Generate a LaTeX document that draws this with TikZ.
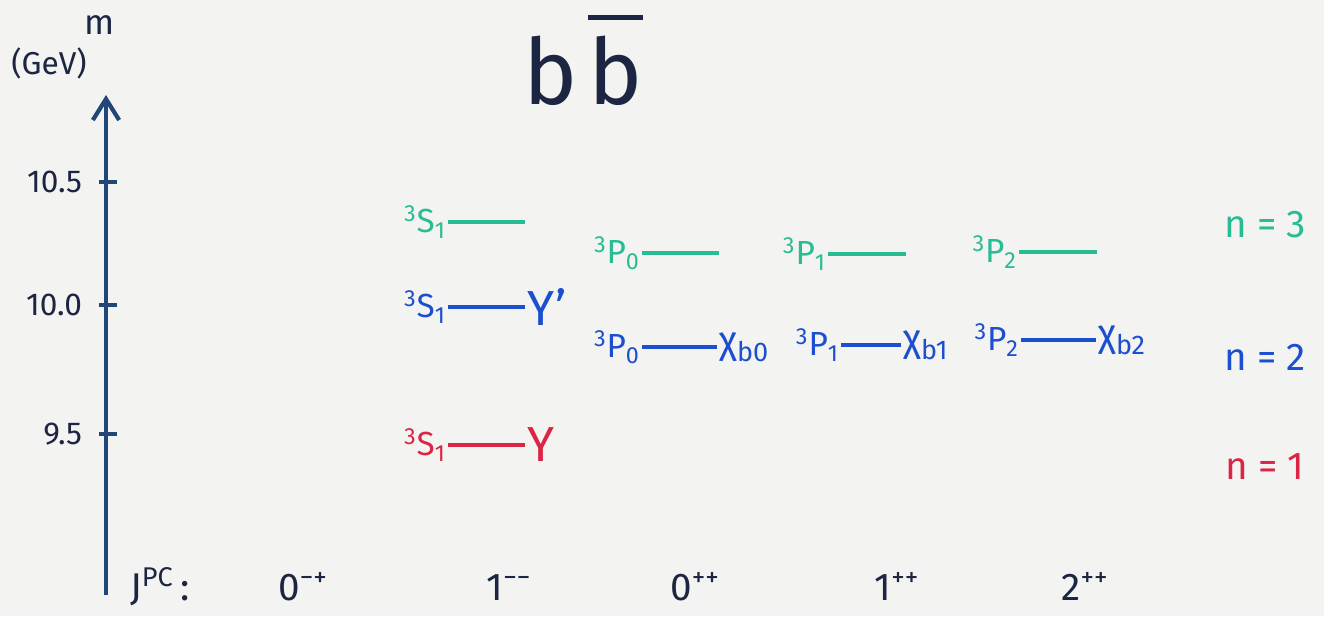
\documentclass[tikz,border=0pt]{standalone}
\usepackage{fontspec}
\setmainfont{Fira Sans}
\usetikzlibrary{positioning,arrows.meta}

\definecolor{paper}{RGB}{243,243,241}
\definecolor{ink}{RGB}{28,38,66}
\definecolor{axisblue}{RGB}{35,70,120}
\definecolor{levgreen}{RGB}{40,188,148}
\definecolor{levblue}{RGB}{28,78,208}
\definecolor{levred}{RGB}{218,38,68}

\newcommand{\spec}[2]{\textsuperscript{3}#1\textsubscript{#2}}
\newcommand{\barb}{\vbox{\hrule height 2.6pt width 0.6em\kern 0.17em\hbox to 0.6em{\hss b\hss}}}

\tikzset{
    axis/.style={draw=axisblue, line width=2.4pt},
    numlab/.style={anchor=east, inner sep=1pt, font=\fontsize{18}{20}\selectfont},
    jpc/.style={anchor=base, inner sep=1pt, font=\fontsize{22}{26}\selectfont},
    term/.style={anchor=east, inner sep=1pt, font=\fontsize{19}{22}\selectfont},
    meson/.style={inner sep=1pt, font=\fontsize{28}{30}\selectfont},
    chi/.style={meson, font=\fontsize{22}{26}\selectfont},
    nlab/.style={inner sep=1pt, font=\fontsize{22}{26}\selectfont},
    lev/.style={line width=2.2pt},
    gr/.style={color=levgreen},
    bl/.style={color=levblue},
    rd/.style={color=levred}
}

\begin{document}
\begin{tikzpicture}[x=0.02cm, y=-0.02cm, color=ink]
    \fill[paper] (0,0) rectangle (1324,616);

    % mass axis
    \coordinate (ax0) at (106,595);
    \coordinate (ax1) at (106,95);
    \draw[axis, -{Straight Barb[length=12pt, width=15pt]}] (ax0) -- (ax1);
    \foreach \v/\y in {10.5/182, 10.0/305, 9.5/434} {
        \draw[axis] (99,\y) -- (117,\y);
        \node[numlab] at (84,\y) {\v};
    }
    \node[inner sep=1pt, font=\fontsize{18}{20}\selectfont] (unit) at (49,63) {(GeV)};
    \node[inner sep=1pt, font=\fontsize{20}{22}\selectfont] (mass) at (100,25) {m};

    \node[anchor=base, font=\fontsize{52}{56}\selectfont] (title) at (583,104) {b\hspace{6pt}\barb};

    % J^PC row
    \node[jpc, anchor=base west] (jpc) at (128,600) {J\textsuperscript{PC}\,:};
    \foreach \x/\q [count=\i] in {303/0\textsuperscript{−+}, 509/1\textsuperscript{−−},
        695/0\textsuperscript{++}, 897/1\textsuperscript{++}, 1085/2\textsuperscript{++}}
        \node[jpc] (jp\i) at (\x,600) {\q};

    % n = 3
    \node[term, gr] (s3) at (448,222) {\spec{S}{1}};
    \node[term, gr] (p03) at (642,253) {\spec{P}{0}};
    \node[term, gr] (p13) at (828,254) {\spec{P}{1}};
    \node[term, gr] (p23) at (1019,252) {\spec{P}{2}};
    \foreach \t in {s3,p03,p13,p23} {
        \coordinate[right=1.55cm of \t] (\t-e);
        \draw[lev, gr] (\t) -- (\t-e);
    }

    % n = 2
    \node[term, bl] (s2) at (448,307) {\spec{S}{1}};
    \node[meson, bl, right=1.55cm of s2] (ups2) {Υ'};
    \draw[lev, bl] (s2) -- (ups2);
    \node[term, bl] (p02) at (642,347) {\spec{P}{0}};
    \node[chi, bl, right=1.5cm of p02] (chi0) {χ\textsubscript{b0}};
    \draw[lev, bl] (p02) -- (chi0);
    \node[term, bl] (p12) at (841,345) {\spec{P}{1}};
    \node[chi, bl, right=1.2cm of p12] (chi1) {χ\textsubscript{b1}};
    \draw[lev, bl] (p12) -- (chi1);
    \node[term, bl] (p22) at (1021,340) {\spec{P}{2}};
    \node[chi, bl, right=1.5cm of p22] (chi2) {χ\textsubscript{b2}};
    \draw[lev, bl] (p22) -- (chi2);

    % n = 1
    \node[term, rd] (s1) at (448,445) {\spec{S}{1}};
    \node[meson, rd, right=1.55cm of s1] (ups1) {Υ};
    \draw[lev, rd] (s1) -- (ups1);

    \node[nlab, gr] (n3) at (1265,225) {n = 3};
    \node[nlab, bl] (n2) at (1265,357) {n = 2};
    \node[nlab, rd] (n1) at (1265,467) {n = 1};
\end{tikzpicture}
\end{document}
